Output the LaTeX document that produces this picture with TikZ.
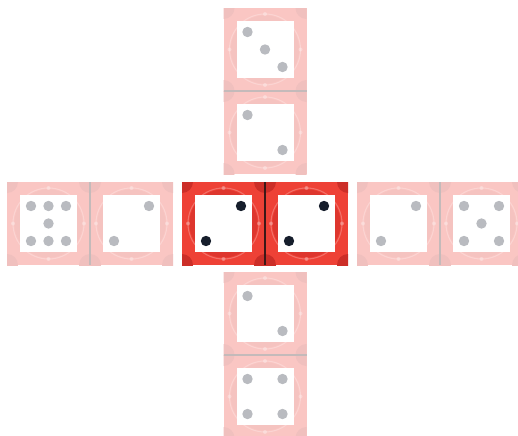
\documentclass[tikz,border=0pt]{standalone}
\usepackage{xcolor}
\usetikzlibrary{calc}

\definecolor{dieRed}{RGB}{238,65,54}
\definecolor{dieRedDeep}{RGB}{204,46,40}
\definecolor{dieRedHub}{RGB}{222,54,46}
\definecolor{pipNavy}{RGB}{22,30,44}
\definecolor{seamDark}{RGB}{60,24,24}

% one tile: centre x, centre y, strength (percent of full colour), pip list
\newcommand{\dicetile}[4]{%
  \begin{scope}[shift={(#1,#2)}]
    \colorlet{tface}{dieRed!#3!white}
    \colorlet{tcorner}{dieRedDeep!#3!white}
    \colorlet{thub}{dieRedHub!#3!white}
    \colorlet{tpip}{pipNavy!#3!white}
    \fill[tilebase] (-41.5,-41.5) rectangle (41.5,41.5);
    \begin{scope}
      \clip (-41.5,-41.5) rectangle (41.5,41.5);
      \foreach \cx in {-1,1} \foreach \cy in {-1,1}
        \fill[cornerdisc] (41.5*\cx,41.5*\cy) circle (11);
    \end{scope}
    \fill[hubdisc] (0,0) circle (34);
    \draw[ringline] (0,0) circle (35.5);
    \foreach \a in {0,90,180,270}
      \fill[ringdot] (\a:35.5) circle (2);
    \fill[face] (-28.5,-28.5) rectangle (28.5,28.5);
    \foreach \px/\py in {#4}
      \fill[pip] (17.5*\px,17.5*\py) circle (5.2);
  \end{scope}}

\begin{document}
\begin{tikzpicture}[
    x=0.02cm, y=-0.02cm,
    % Styles for the tiles
    tilebase/.style={fill=tface},
    cornerdisc/.style={fill=tcorner},
    hubdisc/.style={fill=thub},
    ringline/.style={draw=white, draw opacity=0.25, line width=0.6pt},
    ringdot/.style={fill=white, fill opacity=0.3},
    face/.style={fill=white},
    pip/.style={fill=tpip},
    seam/.style={line width=0.6pt}
]
    \useasboundingbox (0,0) rectangle (518,436);
    \clip (0,0) rectangle (518,436);

    % 1. The centre pair (full colour)
    \dicetile{223.5}{223.5}{100}{1/-1, -1/1}
    \dicetile{306.5}{223.5}{100}{1/-1, -1/1}
    \draw[seam, draw=seamDark] (265,182) -- (265,265);

    % 2. The column above
    \dicetile{265}{49.5}{30}{-1/-1, 0/0, 1/1}
    \dicetile{265}{132.5}{30}{-1/-1, 1/1}
    \draw[seam, draw=seamDark!30!white] (223.5,91) -- (306.5,91);

    % 3. The column below
    \dicetile{265}{313.5}{30}{-1/-1, 1/1}
    \dicetile{265}{396.5}{30}{-1/-1, 1/-1, -1/1, 1/1}
    \draw[seam, draw=seamDark!30!white] (223.5,355) -- (306.5,355);

    % 4. The row on the left
    \dicetile{48.5}{223.5}{30}{-1/-1, 0/-1, 1/-1, 0/0, -1/1, 0/1, 1/1}
    \dicetile{131.5}{223.5}{30}{1/-1, -1/1}
    \draw[seam, draw=seamDark!30!white] (90,182) -- (90,265);

    % 5. The row on the right
    \dicetile{398.5}{223.5}{30}{1/-1, -1/1}
    \dicetile{481.5}{223.5}{30}{-1/-1, 1/-1, 0/0, -1/1, 1/1}
    \draw[seam, draw=seamDark!30!white] (440,182) -- (440,265);

\end{tikzpicture}
\end{document}
